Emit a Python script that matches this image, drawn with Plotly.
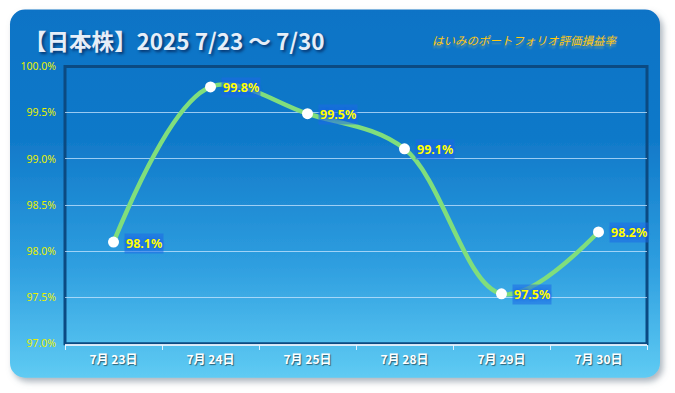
import base64
import plotly.graph_objects as go

# ---- data ----
dates = ["7月 23日", "7月 24日", "7月 25日", "7月 28日", "7月 29日", "7月 30日"]
values = [98.1, 99.78, 99.49, 99.11, 97.54, 98.21]
labels = ["98.1%", "99.8%", "99.5%", "99.1%", "97.5%", "98.2%"]
title_text = "【日本株】2025 7/23 〜 7/30"
subtitle_text = "はいみのポートフォリオ評価損益率"

W, H = 675, 393
# vertical calibration of the capture (rendered_y = OY + SY * figure_y)
SY, OY = 0.964, 7.4


def py(y_px):
    """paper fraction for a target pixel row in the final picture"""
    return (H - (y_px - OY) / SY) / H


# ---- decorative card background (svg, in picture pixels) ----
svg = f'''<svg xmlns="http://www.w3.org/2000/svg" width="{W}" height="{H}" viewBox="0 0 {W} {H}" preserveAspectRatio="none">
<defs>
<linearGradient id="g" x1="0" y1="0" x2="0" y2="1">
<stop offset="0" stop-color="#0b73c6"/>
<stop offset="0.35" stop-color="#1079c9"/>
<stop offset="0.7" stop-color="#2f9fe0"/>
<stop offset="1" stop-color="#5fcbf3"/>
</linearGradient>
<filter id="s" x="-5%" y="-5%" width="110%" height="115%">
<feDropShadow dx="3" dy="4" stdDeviation="3" flood-color="#6a7a88" flood-opacity="0.55"/>
</filter>
</defs>
<rect x="10" y="10" width="650" height="368" rx="15" ry="15" fill="url(#g)" filter="url(#s)"/>
</svg>'''
src = "data:image/svg+xml;base64," + base64.b64encode(svg.encode()).decode()

fig = go.Figure()
fig.add_trace(go.Scatter(
    x=dates, y=values, mode="lines+markers",
    line=dict(color="#80de7c", width=4.5, shape="spline", smoothing=1.0),
    marker=dict(color="white", size=11, line=dict(width=0)),
    hoverinfo="skip", showlegend=False,
))

for d, v, t in zip(dates, values, labels):
    fig.add_annotation(
        x=d, y=v, xref="x", yref="y", text=f"<b>{t}</b>", showarrow=False,
        xanchor="left", xshift=10, yshift=-1,
        font=dict(family="Noto Sans", size=12.5, color="#ffff00",
                  shadow="0 0 3px #1a62e6, 0 0 3px #1a62e6"),
        bgcolor="rgba(30,105,230,0.55)", borderpad=1,
    )

x0, x1 = 65 / W, 647 / W
y0, y1 = py(344), py(67)

fig.add_annotation(
    x=22 / W, y=py(40), xref="paper", yref="paper", xanchor="left", yanchor="middle",
    text=f"<b>{title_text}</b>", showarrow=False,
    font=dict(family="Noto Sans CJK JP", size=22.5, color="#e6eef8",
              shadow="2px 2px 3px rgba(0,0,40,0.55)"),
)
fig.add_annotation(
    x=430 / W, y=py(40), xref="paper", yref="paper", xanchor="left", yanchor="middle",
    text=subtitle_text, showarrow=False,
    font=dict(family="Noto Sans CJK JP", size=11.5, color="#ffc812", style="italic",
              shadow="0px 3px 2px rgba(255,210,80,0.35)"),
)

fig.add_shape(type="rect", xref="paper", yref="paper", x0=x0, x1=x1, y0=y0, y1=y1,
              line=dict(color="#0b4a82", width=3), layer="below")

fig.update_layout(
    width=W, height=H, margin=dict(l=0, r=0, t=0, b=0),
    paper_bgcolor="white", plot_bgcolor="rgba(0,0,0,0)",
    images=[dict(source=src, xref="paper", yref="paper", x=0, y=py(0), sizex=1,
                 sizey=py(0) - py(H),
                 xanchor="left", yanchor="top", sizing="stretch", layer="below")],
    xaxis=dict(domain=[x0, x1], type="category", range=[-0.5, 5.5],
               showgrid=False, showline=True, linecolor="rgba(235,245,255,0.9)", linewidth=1.5,
               ticks="outside", tickson="boundaries", ticklen=5, tickcolor="rgba(235,245,255,0.9)",
               ticklabelstandoff=4,
               tickfont=dict(family="Noto Sans CJK JP", size=12, color="white",
                             shadow="1px 1px 1px rgba(0,0,0,0.5)", weight="bold"),
               fixedrange=True),
    yaxis=dict(domain=[y0, y1], range=[97, 100], dtick=0.5, tick0=97,
               tickformat=".1f", ticksuffix="%",
               showgrid=True, gridcolor="rgba(200,230,255,0.75)", gridwidth=1,
               zeroline=False, showline=False, ticks="", ticklabelstandoff=8,
               tickfont=dict(family="Noto Sans", size=10.5, color="#e8f000"),
               fixedrange=True),
)

fig.write_html("out.html", config={"displayModeBar": False},
               post_script="document.body.style.margin='0';")
